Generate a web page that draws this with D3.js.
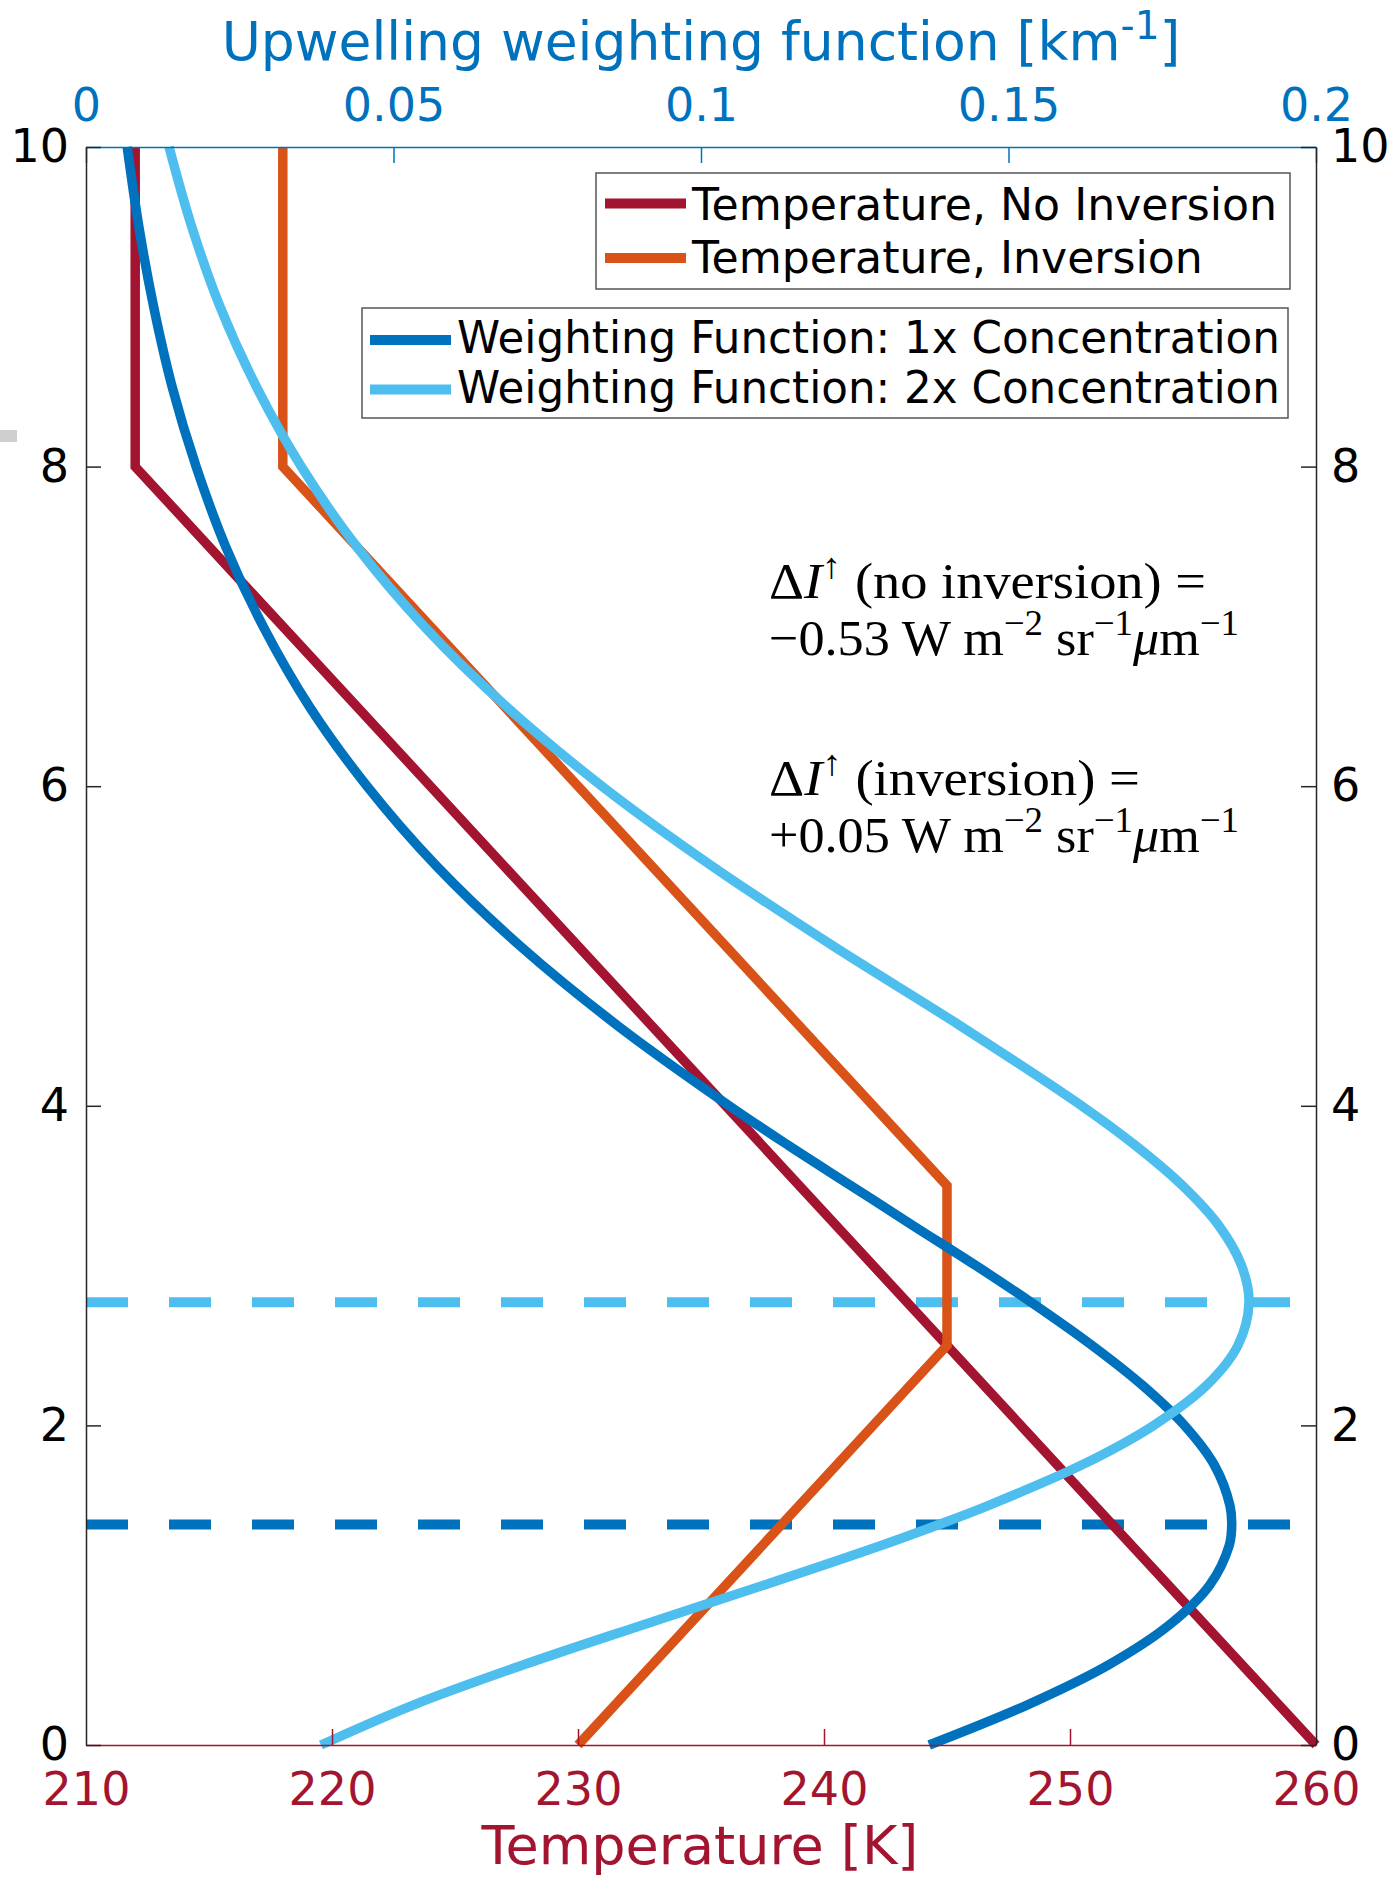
<!DOCTYPE html>
<html>
<head>
<meta charset="utf-8">
<script src="https://cdn.jsdelivr.net/npm/d3@7"></script>
<style>
  html, body { margin: 0; padding: 0; background: #fff; }
  svg { display: block; }
</style>
</head>
<body>
<svg id="chart" width="1394" height="1877"></svg>
<script>
// Temperature profiles (height in km, temperature in K)
const tempNoInvHeight = [0, 8, 10];
const tempNoInvValue  = [260, 212, 212];
const tempInvHeight   = [0, 2.5, 3.5, 8, 10];
const tempInvValue    = [230, 245, 245, 218, 218];

// Upwelling weighting functions (km^-1) sampled in height (km)
const wfHeight = [0, 0.25, 0.5, 0.75, 1, 1.25, 1.38, 1.5, 1.75, 2, 2.25, 2.5, 2.77, 3, 3.25,
                  3.5, 3.75, 4, 4.5, 5, 5.5, 6, 6.5, 7, 7.5, 8, 8.5, 9, 9.5, 10];
const wf1x = [0.1371, 0.1530, 0.1662, 0.1761, 0.1827, 0.1859, 0.1863, 0.1860, 0.1835, 0.1786,
              0.1718, 0.1636, 0.1537, 0.1447, 0.1345, 0.1244, 0.1143, 0.1046, 0.0865, 0.0706,
              0.0570, 0.0457, 0.0363, 0.0288, 0.0227, 0.0179, 0.0140, 0.0110, 0.0086, 0.0067];
const wf2x = [0.0382, 0.0532, 0.0710, 0.0904, 0.1102, 0.1294, 0.1387, 0.1468, 0.1618, 0.1736,
              0.1822, 0.1873, 0.1891, 0.1879, 0.1842, 0.1783, 0.1707, 0.1619, 0.1422, 0.1215,
              0.1018, 0.0839, 0.0683, 0.0550, 0.0440, 0.0350, 0.0277, 0.0218, 0.0172, 0.0135];

// Heights of the weighting-function peaks
const peakHeight1x = 1.38;
const peakHeight2x = 2.77;

// Axis ticks
const heightTicks = [0, 2, 4, 6, 8, 10];
const tempTicks = [210, 220, 230, 240, 250, 260];
const wfTicks = [0, 0.05, 0.1, 0.15, 0.2];
const wfTickLabels = ["0", "0.05", "0.1", "0.15", "0.2"];

const legendTemp = ["Temperature, No Inversion", "Temperature, Inversion"];
const legendWF = ["Weighting Function: 1x Concentration", "Weighting Function: 2x Concentration"];

const C = {
  red: "#A2142F", orange: "#D95319", blue: "#0072BD", lightBlue: "#4DBEEE", axis: "#262626"
};

const svg = d3.select("#chart");
svg.append("rect").attr("width", 1394).attr("height", 1877).attr("fill", "#fff");

const L = 86, R = 1316, T = 147, B = 1745;
const y = d3.scaleLinear().domain([0, 10]).range([B, T]);
const xT = d3.scaleLinear().domain([210, 260]).range([L, R]);
const xW = d3.scaleLinear().domain([0, 0.2]).range([L, R]);

const sans = "'DejaVu Sans', sans-serif";
const LW = 9.5;

// small grey mark at the left margin
svg.append("rect").attr("x", 0).attr("y", 430).attr("width", 17).attr("height", 12).attr("fill", "#cfcfcf");

// ---- Plot contents ----
const plot = svg.append("g");

// dashed peak-height lines
[[peakHeight2x, C.lightBlue], [peakHeight1x, C.blue]].forEach(([h, col]) => {
  plot.append("line")
    .attr("x1", xW(0)).attr("x2", xW(0.2))
    .attr("y1", y(h)).attr("y2", y(h))
    .attr("stroke", col).attr("stroke-width", 10)
    .attr("stroke-dasharray", "42 41");
});

const tempLine = d3.line().x(d => xT(d[1])).y(d => y(d[0]));
plot.append("path")
  .datum(d3.zip(tempNoInvHeight, tempNoInvValue))
  .attr("d", tempLine).attr("fill", "none")
  .attr("stroke", C.red).attr("stroke-width", LW).attr("stroke-linejoin", "miter");
plot.append("path")
  .datum(d3.zip(tempInvHeight, tempInvValue))
  .attr("d", tempLine).attr("fill", "none")
  .attr("stroke", C.orange).attr("stroke-width", LW).attr("stroke-linejoin", "miter");

const wfLine = d3.line().x(d => xW(d[1])).y(d => y(d[0])).curve(d3.curveCatmullRom.alpha(0.5));
plot.append("path")
  .datum(d3.zip(wfHeight, wf1x))
  .attr("d", wfLine).attr("fill", "none")
  .attr("stroke", C.blue).attr("stroke-width", LW);
plot.append("path")
  .datum(d3.zip(wfHeight, wf2x))
  .attr("d", wfLine).attr("fill", "none")
  .attr("stroke", C.lightBlue).attr("stroke-width", LW);

// ---- Axes ----
function styleAxis(g, color, size) {
  g.selectAll(".domain").attr("stroke", color).attr("stroke-width", 1.5);
  g.selectAll(".tick line").attr("stroke", color).attr("stroke-width", 1.5);
  g.selectAll(".tick text").attr("fill", color).style("font-family", sans).style("font-size", size + "px");
}

const gTop = svg.append("g").attr("transform", `translate(0,${T})`)
  .call(d3.axisTop(xW).tickValues(wfTicks).tickFormat((d, i) => wfTickLabels[i])
    .tickSizeInner(-16).tickSizeOuter(0).tickPadding(26));
styleAxis(gTop, C.blue, 46);

const gBottom = svg.append("g").attr("transform", `translate(0,${B})`)
  .call(d3.axisBottom(xT).tickValues(tempTicks).tickFormat(d3.format("d"))
    .tickSizeInner(-16).tickSizeOuter(0).tickPadding(27));
styleAxis(gBottom, C.red, 46);
gBottom.selectAll(".tick line").filter(d => d === 210 || d === 260).remove();

const gLeft = svg.append("g").attr("transform", `translate(${L},0)`)
  .call(d3.axisLeft(y).tickValues(heightTicks).tickFormat(d3.format("d"))
    .tickSizeInner(-15).tickSizeOuter(0).tickPadding(17));
styleAxis(gLeft, C.axis, 46);
gLeft.selectAll(".tick text").attr("fill", "#000");

const gRight = svg.append("g").attr("transform", `translate(${R},0)`)
  .call(d3.axisRight(y).tickValues(heightTicks).tickFormat(d3.format("d"))
    .tickSizeInner(-15).tickSizeOuter(0).tickPadding(15));
styleAxis(gRight, C.axis, 46);
gRight.selectAll(".tick text").attr("fill", "#000");

// axis titles
const topTitle = svg.append("text")
  .attr("x", 701).attr("y", 60).attr("text-anchor", "middle")
  .attr("fill", C.blue).style("font-family", sans).style("font-size", "53.5px");
topTitle.append("tspan").text("Upwelling weighting function [km");
topTitle.append("tspan").attr("dy", -21).style("font-size", "39px").text("-1");
topTitle.append("tspan").attr("dy", 21).text("]");

svg.append("text")
  .attr("x", 700).attr("y", 1864).attr("text-anchor", "middle")
  .attr("fill", C.red).style("font-family", sans).style("font-size", "54px")
  .text("Temperature [K]");

// ---- Legends ----
function legend(x0, y0, x1, y1, lineX0, lineX1, rowsY, textX, baselines, labels, colors, fs) {
  const g = svg.append("g");
  g.append("rect").attr("x", x0).attr("y", y0).attr("width", x1 - x0).attr("height", y1 - y0)
    .attr("fill", "#fff").attr("stroke", "#555").attr("stroke-width", 1.5);
  labels.forEach((lab, i) => {
    g.append("line").attr("x1", lineX0).attr("x2", lineX1)
      .attr("y1", rowsY[i]).attr("y2", rowsY[i])
      .attr("stroke", colors[i]).attr("stroke-width", 10);
    g.append("text").attr("x", textX).attr("y", baselines[i])
      .attr("fill", "#000").style("font-family", sans).style("font-size", fs + "px")
      .text(lab);
  });
}
legend(596, 173, 1290, 289, 605, 686, [203.5, 258], 692, [219.5, 273], legendTemp, [C.red, C.orange], 44.2);
legend(362, 308, 1288, 418, 370, 451, [340, 389.5], 457, [353, 402.5], legendWF, [C.blue, C.lightBlue], 43.6);

// ---- Radiance-change annotations ----
const serif = "'Liberation Serif', 'DejaVu Serif', serif";
function mathLine(xPos, yPos, parts, width) {
  const t = svg.append("text").attr("x", xPos).attr("y", yPos)
    .attr("fill", "#000").style("font-family", serif).style("font-size", "51px")
    .attr("textLength", width).attr("lengthAdjust", "spacingAndGlyphs");
  parts.forEach(p => {
    const s = t.append("tspan").text(p.t);
    if (p.i) s.style("font-style", "italic");
    if (p.sup) s.attr("dy", -20).style("font-size", "36px");
    if (p.back) s.attr("dy", 20);
  });
}
mathLine(769, 598, [{t: "Δ"}, {t: "I", i: true}, {t: "↑", sup: true}, {t: " (no inversion) =", back: true}], 437);
mathLine(769, 655, [{t: "−0.53 W m"}, {t: "−2", sup: true}, {t: " sr", back: true}, {t: "−1", sup: true},
  {t: "μ", i: true, back: true}, {t: "m"}, {t: "−1", sup: true}], 470);
mathLine(769, 795, [{t: "Δ"}, {t: "I", i: true}, {t: "↑", sup: true}, {t: " (inversion) =", back: true}], 371);
mathLine(769, 852, [{t: "+0.05 W m"}, {t: "−2", sup: true}, {t: " sr", back: true}, {t: "−1", sup: true},
  {t: "μ", i: true, back: true}, {t: "m"}, {t: "−1", sup: true}], 470);
</script>
</body>
</html>
